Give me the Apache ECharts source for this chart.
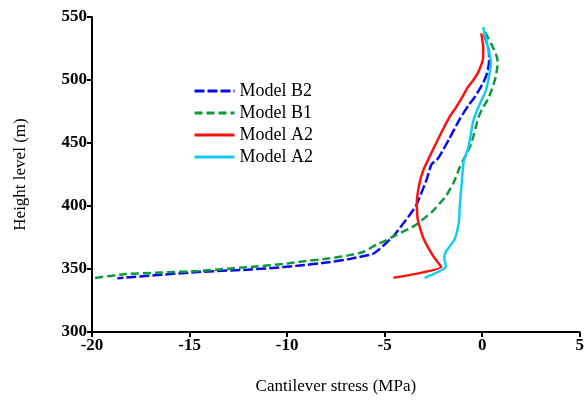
<!DOCTYPE html>
<html>
<head>
<meta charset="utf-8">
<script src="https://cdn.jsdelivr.net/npm/echarts@6/dist/echarts.min.js"></script>
<style>
  html, body { margin: 0; padding: 0; background: #fff; }
  #chart { width: 587px; height: 400px; }
</style>
</head>
<body>
<div id="chart"></div>
<script>
// data: [stress (MPa), height (m)]
var modelB2 = [[0.1,536],[0.35,522],[0.35,514],[0.2,503],[-0.05,495],[-0.4,486],[-0.7,480],[-1.15,469],
  [-1.7,453],[-2.25,438],[-2.6,433],[-2.85,421],[-3.1,411],[-3.4,400],[-3.9,389],[-4.55,376],[-4.9,371],
  [-5.25,366],[-5.6,362],[-6.0,360.5],[-6.8,358],[-7.8,355.5],[-9.5,352.5],[-10.2,351.5],[-12,349.5],
  [-14.7,347.5],[-18.7,342.7]];
var modelB1 = [[0.15,538],[0.45,529],[0.7,521],[0.8,514],[0.7,503],[0.55,495],[0.3,485],[0.0,477],[-0.2,470],
  [-0.55,450],[-0.95,437],[-1.2,429],[-1.45,419],[-1.85,408],[-2.35,399],[-2.6,395],[-3.5,384],[-4.55,376],
  [-4.9,373],[-5.4,369.5],[-6.1,363.5],[-6.8,361],[-7.8,358.5],[-9.5,355.5],[-10.15,354],[-12,351.5],
  [-14.7,348.3],[-18.2,346],[-19.95,342.7]];
var modelA2red = [[-0.05,537],[0.05,526],[0.05,518],[-0.15,508],[-0.45,500],[-0.75,494],[-1.0,487],[-1.35,478],
  [-1.7,470],[-2.2,455],[-2.7,439],[-3.0,429],[-3.2,419],[-3.35,403],[-3.3,389],[-3.0,374],[-2.5,360],
  [-2.1,351.5],[-4.55,343]];
var modelA2cyan = [[0.05,542],[0.2,532],[0.35,522],[0.45,514],[0.35,503],[0.2,492],[-0.15,480],[-0.45,468],
  [-0.7,447],[-0.95,435],[-1.05,419],[-1.15,400],[-1.2,387],[-1.4,374],[-1.85,364],[-1.95,359],[-1.85,352],
  [-2.95,343]];

var serif = '"Liberation Serif", "DejaVu Serif", serif';
var chart = echarts.init(document.getElementById('chart'));

function mkLine(name, data, color, dash) {
  return {
    name: name,
    type: 'line',
    data: data,
    symbol: 'none',
    smooth: 0.18,
    lineStyle: { color: color, width: 2.5, type: dash },
    itemStyle: { color: color }
  };
}

var option = {
  animation: false,
  backgroundColor: '#fff',
  grid: { left: 92, right: 4, top: 17, bottom: 67 },
  legend: {
    orient: 'vertical',
    left: 188,
    top: 77,
    itemWidth: 40,
    itemHeight: 14,
    itemGap: 4,
    itemStyle: { opacity: 0 },
    lineStyle: { width: 3 },
    textStyle: { fontFamily: serif, fontSize: 18, color: '#000' },
    data: ['Model B2', 'Model B1', 'Model A2', 'Model A2 ']
  },
  xAxis: {
    type: 'value',
    min: -20, max: 5, interval: 5,
    name: 'Cantilever stress (MPa)',
    nameLocation: 'middle',
    nameGap: 46,
    nameTextStyle: { fontFamily: serif, fontSize: 17, color: '#000' },
    axisLine: { onZero: false, lineStyle: { color: '#000', width: 2 } },
    axisTick: { length: 5, lineStyle: { color: '#000', width: 2 } },
    axisLabel: { fontFamily: serif, fontSize: 17, fontWeight: 'bold', color: '#000', margin: 5 },
    splitLine: { show: false }
  },
  yAxis: {
    type: 'value',
    min: 300, max: 550, interval: 50,
    name: 'Height level (m)',
    nameLocation: 'middle',
    nameGap: 63,
    nameTextStyle: { fontFamily: serif, fontSize: 17, color: '#000' },
    axisLine: { show: true, onZero: false, lineStyle: { color: '#000', width: 2 } },
    axisTick: { show: true, length: 5, lineStyle: { color: '#000', width: 2 } },
    axisLabel: { fontFamily: serif, fontSize: 17, fontWeight: 'bold', color: '#000', margin: 5 },
    splitLine: { show: false }
  },
  series: [
    mkLine('Model B2', modelB2, '#0a0aee', [10, 3]),
    mkLine('Model B1', modelB1, '#0c9a3a', [8, 4]),
    mkLine('Model A2', modelA2red, '#ff1010', 'solid'),
    mkLine('Model A2 ', modelA2cyan, '#12ccf5', 'solid')
  ]
};
chart.setOption(option);
</script>
</body>
</html>
